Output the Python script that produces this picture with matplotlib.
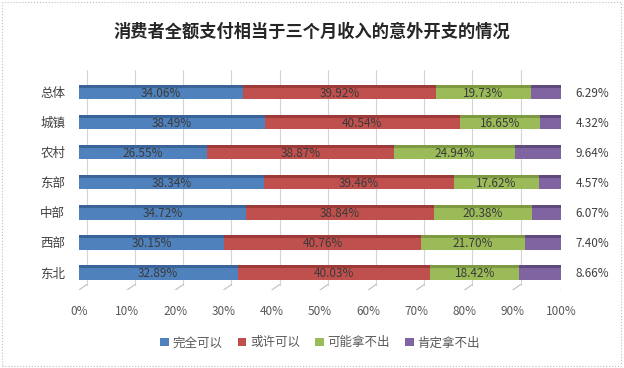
import matplotlib
matplotlib.use("Agg")
import matplotlib.pyplot as plt
from matplotlib.patches import Rectangle
import numpy as np

plt.rcParams['font.family'] = ['Noto Sans CJK SC', 'DejaVu Sans']

categories = ['总体', '城镇', '农村', '东部', '中部', '西部', '东北']
series_names = ['完全可以', '或许可以', '可能拿不出', '肯定拿不出']
full_pay = [34.06, 38.49, 26.55, 38.34, 34.72, 30.15, 32.89]
maybe_pay = [39.92, 40.54, 38.87, 39.46, 38.84, 40.76, 40.03]
maybe_not = [19.73, 16.65, 24.94, 17.62, 20.38, 21.70, 18.42]
surely_not = [6.29, 4.32, 9.64, 4.57, 6.07, 7.40, 8.66]
x_ticks = [0, 10, 20, 30, 40, 50, 60, 70, 80, 90, 100]

colors = ['#4F81BD', '#C0504D', '#9BBB59', '#8064A2']
tops = ['#3A6499', '#9C3A37', '#7D9A42', '#5F4A7E']

fig = plt.figure(figsize=(6.24, 3.68), dpi=100)
ax = fig.add_axes([79 / 624, 1 - 290 / 368, 482 / 624, 220 / 368])

y = np.arange(len(categories))
h = 0.48
dx = 1.6  # 3D back-wall offset

# back-wall gridlines with floor stubs
for t in x_ticks:
    ax.plot([t + dx, t + dx], [6.4, -0.73], color='#d4d4d4', lw=0.8, zorder=0)
    ax.plot([t, t + dx], [6.58, 6.4], color='#bfbfbf', lw=0.8, zorder=0)

series = [full_pay, maybe_pay, maybe_not, surely_not]
left = np.zeros(len(categories))
for k, vals in enumerate(series):
    vals = np.array(vals)
    ax.barh(y, vals, left=left, height=h, color=colors[k], label=series_names[k], zorder=2)
    ax.barh(y - h / 2 + 0.05, vals, left=left, height=0.1, color=tops[k], zorder=3)
    if k < 3:
        for i, v in enumerate(vals):
            ax.text(left[i] + v / 2, y[i] + 0.04, f'{v:.2f}%', ha='center', va='center',
                    fontsize=8.5, color='#3a3a3a', zorder=4)
    else:
        for i, v in enumerate(vals):
            ax.text(103, y[i] + 0.04, f'{v:.2f}%', ha='left', va='center',
                    fontsize=8.5, color='#404040', clip_on=False)
    left += vals

ax.set_xlim(0, 100)
ax.set_ylim(6.58, -0.73)
ax.set_yticks(y)
ax.set_yticklabels(categories, fontsize=9, color='#404040')
ax.set_xticks(x_ticks)
ax.set_xticklabels([f'{t}%' for t in x_ticks], fontsize=8.5, color='#595959')
ax.tick_params(length=0, axis='both')
ax.tick_params(axis='x', pad=11)
ax.tick_params(axis='y', pad=10)
for s in ax.spines.values():
    s.set_visible(False)

fig.text(0.5, 1 - 32 / 368, '消费者全额支付相当于三个月收入的意外开支的情况',
         ha='center', va='center', fontsize=12.4, fontweight='bold', color='#262626')

ax.legend(loc='center', bbox_to_anchor=(0.5, -0.24), ncol=4, frameon=False,
          fontsize=9, handlelength=0.7, handleheight=0.7, handletextpad=0.3,
          columnspacing=1.2, labelcolor='#595959')

fig.patches.append(Rectangle((0.003, 0.005), 0.992, 0.99, transform=fig.transFigure,
                             fill=False, edgecolor='#bfbfbf', linestyle=':', lw=0.8))

fig.savefig('out.png', dpi=100)
